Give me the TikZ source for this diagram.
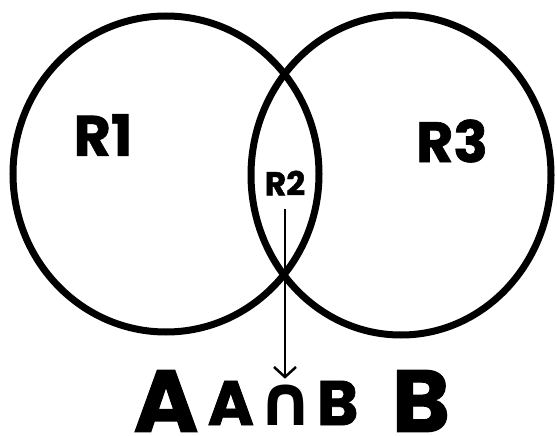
\documentclass[tikz,border=0pt]{standalone}
\usepackage{fontspec}
\setmainfont{Poppins}
\newfontfamily\symfont{DejaVu Sans}
\usetikzlibrary{arrows.meta}
\newcommand\heavyfont[1]{\fontsize{#1}{#1}\selectfont\bfseries\addfontfeature{FakeBold=1.2}}
\tikzset{
  setcircle/.style={draw=black, line width=7pt},
  lbl/.style={inner sep=0pt},
  conn/.style={draw=black, line width=2.5pt, -{Straight Barb[length=10pt,width=22pt,line width=2.5pt]}}
}
\begin{document}
\begin{tikzpicture}[x=1pt,y=-1pt]
\useasboundingbox (0,0) rectangle (557,436);
\fill[white] (0,0) rectangle (557,436);
\draw[setcircle] (166,174) ellipse [x radius=153, y radius=158];
\draw[setcircle] (401,175) ellipse [x radius=150, y radius=160];
\node[lbl, font=\heavyfont{57}] (r1) at (103,135) {R1};
\node[lbl, font=\heavyfont{57}] (r3) at (452,141) {R3};
\node[lbl, font=\heavyfont{33}] (r2) at (285,183) {R2};
\node[lbl, font=\heavyfont{88}] (a) at (166,401) {A};
\node[lbl, font=\heavyfont{88}] (b) at (421,401) {B};
\node[lbl, font=\heavyfont{63}] (ab) at (283,403) {A\hspace{3pt}{\symfont\fontsize{70}{70}\selectfont ∩}\hspace{3pt}B};
\draw[conn, shorten <=13pt, shorten >=2pt] (r2.south) -- (r2.south |- ab.north);
\end{tikzpicture}
\end{document}
